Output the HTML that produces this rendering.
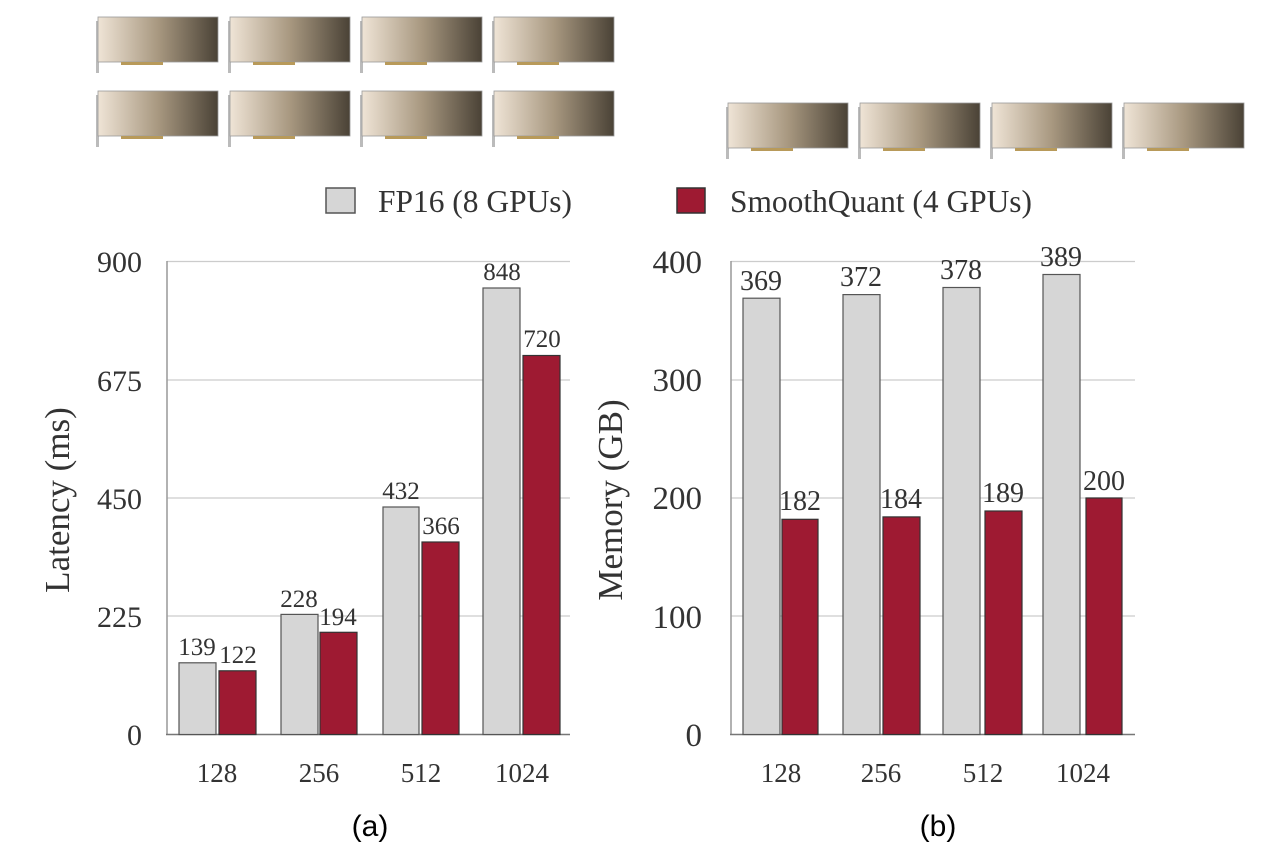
<!DOCTYPE html>
<html><head><meta charset="utf-8"><style>
html,body{margin:0;padding:0;background:#fff;}
svg{display:block;}
</style></head><body>
<svg width="1288" height="866" viewBox="0 0 1288 866" xmlns="http://www.w3.org/2000/svg">
<defs>
<linearGradient id="g" x1="0" x2="1" y1="0" y2="0">
<stop offset="0" stop-color="#efe4d6"/><stop offset="0.5" stop-color="#a89880"/><stop offset="1" stop-color="#4a4236"/>
</linearGradient>
<g id="card">
<rect x="-1" y="4" width="3" height="52" fill="#bbb"/>
<rect x="1" y="0" width="120" height="45" fill="url(#g)" stroke="#999" stroke-width="0.8"/>
<rect x="24" y="45" width="42" height="3" fill="#b89a5a"/>
</g>
</defs>
<use href="#card" x="97" y="17"/><use href="#card" x="229" y="17"/><use href="#card" x="361" y="17"/><use href="#card" x="493" y="17"/>
<use href="#card" x="97" y="91"/><use href="#card" x="229" y="91"/><use href="#card" x="361" y="91"/><use href="#card" x="493" y="91"/>
<use href="#card" x="727" y="103"/><use href="#card" x="859" y="103"/><use href="#card" x="991" y="103"/><use href="#card" x="1123" y="103"/>

<g font-family="Liberation Serif, serif" fill="#333">
<rect x="326" y="188" width="29" height="25" fill="#d6d6d6" stroke="#555" stroke-width="1.5"/>
<text x="378" y="212" font-size="31.5" textLength="194" lengthAdjust="spacingAndGlyphs">FP16 (8 GPUs)</text>
<rect x="677" y="188" width="28" height="25" fill="#9e1a32" stroke="#333" stroke-width="1.5"/>
<text x="730" y="212" font-size="31.5" textLength="302" lengthAdjust="spacingAndGlyphs">SmoothQuant (4 GPUs)</text>

<!-- left chart -->
<g stroke="#ccc" stroke-width="1.2">
<line x1="167" x2="570" y1="261.5" y2="261.5"/><line x1="167" x2="570" y1="380" y2="380"/>
<line x1="167" x2="570" y1="498" y2="498"/><line x1="167" x2="570" y1="616" y2="616"/>
</g>
<line x1="167" x2="167" y1="261" y2="735" stroke="#999" stroke-width="1.5"/>
<line x1="166" x2="570" y1="734.5" y2="734.5" stroke="#777" stroke-width="1.5"/>
<g font-size="30" text-anchor="end">
<text x="142" y="272">900</text><text x="142" y="391">675</text><text x="142" y="509">450</text><text x="142" y="627">225</text><text x="142" y="745">0</text>
</g>
<text transform="translate(69,500) rotate(-90)" font-size="35" text-anchor="middle">Latency (ms)</text>
<g stroke="#555" stroke-width="1.2" fill="#d6d6d6">
<rect x="179" y="662.8" width="37" height="71.7"/><rect x="281" y="614.4" width="37" height="120.1"/>
<rect x="383" y="507" width="36" height="227.5"/><rect x="483" y="288" width="37" height="446.5"/>
</g>
<g stroke="#333" stroke-width="1.2" fill="#9e1a32">
<rect x="219" y="670.8" width="37" height="63.7"/><rect x="320" y="632.3" width="37" height="102.2"/>
<rect x="422" y="542" width="37" height="192.5"/><rect x="523" y="355.5" width="37" height="379"/>
</g>
<g font-size="25" text-anchor="middle">
<text x="197" y="655">139</text><text x="238" y="663">122</text>
<text x="299" y="607">228</text><text x="338" y="625">194</text>
<text x="401" y="499">432</text><text x="441" y="534">366</text>
<text x="502" y="280">848</text><text x="542" y="347">720</text>
</g>
<g font-size="27" text-anchor="middle">
<text x="217" y="782">128</text><text x="319" y="782">256</text><text x="421" y="782">512</text><text x="522" y="782">1024</text>
</g>

<!-- right chart -->
<g stroke="#ccc" stroke-width="1.2">
<line x1="731" x2="1135" y1="261.5" y2="261.5"/><line x1="731" x2="1135" y1="380" y2="380"/>
<line x1="731" x2="1135" y1="498" y2="498"/><line x1="731" x2="1135" y1="616" y2="616"/>
</g>
<line x1="731" x2="731" y1="261" y2="735" stroke="#999" stroke-width="1.5"/>
<line x1="730" x2="1135" y1="734.5" y2="734.5" stroke="#777" stroke-width="1.5"/>
<g font-size="33" text-anchor="end">
<text x="702" y="273">400</text><text x="702" y="391">300</text><text x="702" y="509">200</text><text x="702" y="628">100</text><text x="702" y="746">0</text>
</g>
<text transform="translate(622,500) rotate(-90)" font-size="35" text-anchor="middle">Memory (GB)</text>
<g stroke="#555" stroke-width="1.2" fill="#d6d6d6">
<rect x="743" y="298.2" width="37" height="436.3"/><rect x="843" y="294.6" width="37" height="439.9"/>
<rect x="943" y="287.5" width="37" height="447"/><rect x="1043" y="274.5" width="37" height="460"/>
</g>
<g stroke="#333" stroke-width="1.2" fill="#9e1a32">
<rect x="782" y="519.3" width="36" height="215.2"/><rect x="883" y="516.9" width="37" height="217.6"/>
<rect x="985" y="511" width="37" height="223.5"/><rect x="1086" y="498" width="36" height="236.5"/>
</g>
<g font-size="28" text-anchor="middle">
<text x="761" y="290">369</text><text x="800" y="510">182</text>
<text x="861" y="286">372</text><text x="901" y="508">184</text>
<text x="961" y="279">378</text><text x="1003" y="502">189</text>
<text x="1061" y="266">389</text><text x="1104" y="490">200</text>
</g>
<g font-size="27" text-anchor="middle">
<text x="781" y="782">128</text><text x="881" y="782">256</text><text x="983" y="782">512</text><text x="1083" y="782">1024</text>
</g>
</g>
<g font-family="Liberation Sans, sans-serif" font-size="30" fill="#000" text-anchor="middle">
<text x="370" y="836">(a)</text><text x="938" y="836">(b)</text>
</g>
</svg>
</body></html>
